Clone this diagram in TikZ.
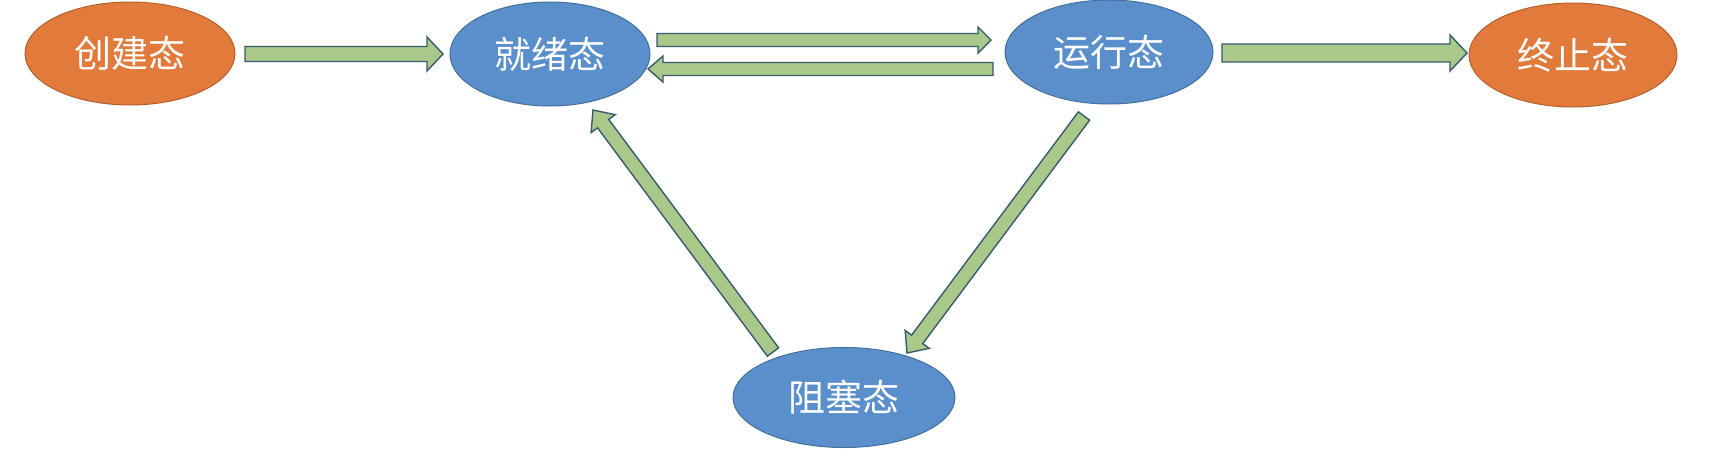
\documentclass[tikz,border=0pt]{standalone}
\usepackage{fontspec}
\newfontfamily\cjk{Noto Sans CJK SC}
\usetikzlibrary{shapes.geometric,calc}
\definecolor{stblue}{HTML}{5A8FCC}
\definecolor{stblueline}{HTML}{41719C}
\definecolor{storange}{HTML}{E27A3C}
\definecolor{storangeline}{HTML}{B5602A}
\definecolor{arrfill}{HTML}{A8C98A}
\definecolor{arrline}{HTML}{3A5A6E}
\tikzset{
  statebase/.style={ellipse, inner sep=0pt, outer sep=0pt, line width=1pt, text=white,
    font=\cjk\fontsize{37pt}{42pt}\selectfont},
  stateb/.style={statebase, fill=stblue, draw=stblueline},
  stateo/.style={statebase, fill=storange, draw=storangeline},
  barrow/.style={fill=arrfill, draw=arrline, line width=1.4pt, line join=miter}
}
% tail, tip, half shaft width, half head width, head length
\newcommand\blockarrow[5]{%
  \coordinate (#1-#2-c) at ($(#2)!#5!(#1)$);
  \filldraw[barrow] ($(#1)!#3!90:(#2)$) -- ($(#1-#2-c)!#3!90:(#2)$)
    -- ($(#1-#2-c)!#4!90:(#2)$) -- (#2) -- ($(#1-#2-c)!#4!-90:(#2)$)
    -- ($(#1-#2-c)!#3!-90:(#2)$) -- ($(#1)!#3!-90:(#2)$) -- cycle;
}
\begin{document}
\begin{tikzpicture}[x=1pt,y=-1pt]
\useasboundingbox[fill=white] (0,0) rectangle (1716,456);
\node[stateo, minimum width=210pt, minimum height=103pt] (create) at (130,53.5) {创建态};
\node[stateb, minimum width=200pt, minimum height=104pt] (ready) at (550,54) {就绪态};
\node[stateb, minimum width=208pt, minimum height=104pt] (run) at (1109,52) {运行态};
\node[stateo, minimum width=208pt, minimum height=104pt] (term) at (1573,55) {终止态};
\node[stateb, minimum width=222pt, minimum height=100pt] (block) at (844,397.5) {阻塞态};

\coordinate (t1) at ($(create.east)+(10,0.5)$);
\coordinate (h1) at ($(ready.west)+(-7,0)$);
\coordinate (t2) at ($(ready.east)+(7,-14)$);
\coordinate (h2) at ($(run.west)+(-14,-12)$);
\coordinate (t3) at ($(run.west)+(-12,17)$);
\coordinate (h3) at ($(ready.east)+(-2,15)$);
\coordinate (t4) at ($(run.east)+(9,1)$);
\coordinate (h4) at ($(term.west)+(-2,-2)$);
\coordinate (t5) at ($(block.north)+(-71,4.5)$);
\coordinate (h5) at ($(ready.south)+(43,4)$);
\coordinate (t6) at ($(run.south)+(-25,12)$);
\coordinate (h6) at ($(block.north)+(63,5.5)$);

\blockarrow{t1}{h1}{7.5pt}{17pt}{16pt}
\blockarrow{t2}{h2}{6.5pt}{13pt}{13pt}
\blockarrow{t3}{h3}{6.5pt}{13pt}{15pt}
\blockarrow{t4}{h4}{9pt}{18pt}{17pt}
\blockarrow{t5}{h5}{7pt}{15pt}{17pt}
\blockarrow{t6}{h6}{7pt}{15pt}{17pt}
\end{tikzpicture}
\end{document}
